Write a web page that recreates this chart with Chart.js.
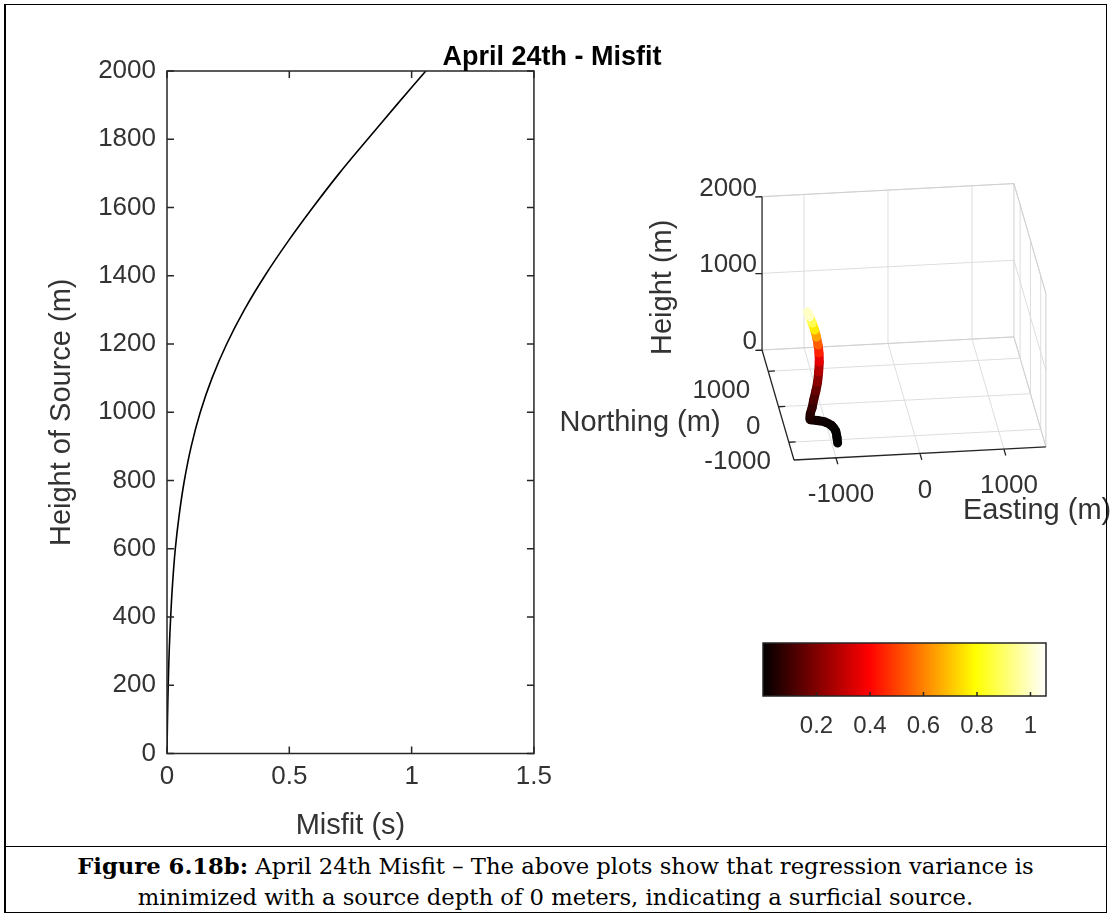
<!DOCTYPE html>
<html lang="en">
<head>
<meta charset="UTF-8">
<title>April 24th - Misfit</title>
<script src="https://cdn.jsdelivr.net/npm/chart.js"></script>
<style>
  body { margin: 0; background: #fff; font-family: "Liberation Sans", Arial, Helvetica, sans-serif; }
  #page { position: relative; width: 1110px; height: 918px; overflow: hidden; background: #fff; }
  canvas { position: absolute; }
  #misfitChart { left: 0; top: 0; }
  #sourceChart { left: 540px; top: 150px; }
  #colorbarChart { left: 740px; top: 620px; }
  #plotTitle { position: absolute; left: 352px; top: 43px; width: 400px; text-align: center;
    font: bold 27px/27px "Liberation Sans", Arial, sans-serif; color: #000; }
  #frame { position: absolute; left: 4px; top: 4px; width: 1103px; height: 909px; box-sizing: border-box;
    border: 1.5px solid #000; border-left-width: 2px; pointer-events: none; }
  #capLine { position: absolute; left: 4px; top: 846px; width: 1103px; border-top: 1.5px solid #000; }
  #caption { position: absolute; left: 6px; top: 851px; width: 1099px; text-align: center;
    font: 22.7px/31px "DejaVu Serif", "Liberation Serif", serif; color: #000; }
</style>
</head>
<body>
<div id="page">
  <canvas id="misfitChart" width="560" height="843"></canvas>
  <canvas id="sourceChart" width="570" height="420"></canvas>
  <canvas id="colorbarChart" width="330" height="140"></canvas>
  <div id="plotTitle">April 24th - Misfit</div>
  <div id="caption"><b>Figure 6.18b:</b> April 24th Misfit – The above plots show that regression variance is<br>minimized with a source depth of 0 meters, indicating a surficial source.</div>
  <div id="capLine"></div>
  <div id="frame"></div>
</div>

<script>
  // source height (m) and misfit (s)
  const sourceHeight = [0, 100, 200, 300, 400, 500, 600, 700, 800, 900, 1000,
                        1100, 1200, 1300, 1400, 1500, 1600, 1700, 1800, 1900, 2000];
  const misfit = [0, 0.002, 0.005, 0.009, 0.015, 0.023, 0.034, 0.05, 0.071, 0.099, 0.136,
                  0.184, 0.244, 0.316, 0.40, 0.494, 0.596, 0.704, 0.82, 0.938, 1.058];

  // best source location for each height (3D plot, right)
  const sourceEasting = [-930, -945, -965, -1020, -1110, -1225, -1330, -1335, -1320, -1300, -1270,
                         -1245, -1225, -1210, -1208, -1218, -1235, -1260, -1290, -1325, -1360];
  const sourceNorthing = [-1090, -1150, -1180, -1235, -1340, -1500, -1675, -1735, -1785, -1780, -1745,
                          -1710, -1650, -1585, -1545, -1535, -1530, -1540, -1555, -1595, -1665];

  const misfitTicks = [0, 0.5, 1, 1.5];
  const heightTicks = [0, 1000, 2000];
  const eastTicks = [-1000, 0, 1000];
  const northTicks = [-1000, 0, 1000];
  const colorbarTicks = [0.2, 0.4, 0.6, 0.8, 1];

  const eastLim = [-1500, 1500];
  const northLim = [-1500, 1600];
  const heightLim = [0, 2000];

  Chart.defaults.font.family = '"Liberation Sans", Arial, Helvetica, sans-serif';
  Chart.defaults.color = '#333';

  // ---------- left: misfit vs height ----------
  const boxTicks = {
    id: 'boxTicks',
    afterDraw(chart) {
      const { ctx, chartArea: a, scales: { x, y } } = chart;
      ctx.save();
      ctx.strokeStyle = '#262626';
      ctx.lineWidth = 1.5;
      ctx.strokeRect(a.left, a.top, a.right - a.left, a.bottom - a.top);
      ctx.beginPath();
      x.ticks.forEach(t => {
        const px = x.getPixelForValue(t.value);
        ctx.moveTo(px, a.bottom); ctx.lineTo(px, a.bottom - 7);
        ctx.moveTo(px, a.top); ctx.lineTo(px, a.top + 7);
      });
      y.ticks.forEach(t => {
        const py = y.getPixelForValue(t.value);
        ctx.moveTo(a.left, py); ctx.lineTo(a.left + 7, py);
        ctx.moveTo(a.right, py); ctx.lineTo(a.right - 7, py);
      });
      ctx.stroke();
      ctx.restore();
    }
  };

  new Chart(document.getElementById('misfitChart'), {
    type: 'scatter',
    data: {
      datasets: [{
        data: sourceHeight.map((h, i) => ({ x: misfit[i], y: h })),
        showLine: true,
        borderColor: '#000',
        borderWidth: 1.6,
        pointRadius: 0,
        tension: 0.4
      }]
    },
    options: {
      responsive: false,
      animation: false,
      layout: { padding: { left: 0, top: 71, right: 20, bottom: 0 } },
      plugins: { legend: { display: false }, tooltip: { enabled: false } },
      scales: {
        x: {
          type: 'linear', min: 0, max: 1.5,
          afterBuildTicks: s => { s.ticks = misfitTicks.map(v => ({ value: v })); },
          ticks: { font: { size: 26 }, color: '#333', padding: 8, maxRotation: 0, callback: v => String(v) },
          grid: { display: false, drawTicks: false },
          border: { display: false },
          title: { display: true, text: 'Misfit (s)', font: { size: 29 }, color: '#333', padding: { top: 0, bottom: 0 } },
          afterFit: s => { s.height = 89.5; }
        },
        y: {
          type: 'linear', min: 0, max: 2000,
          ticks: { stepSize: 200, font: { size: 26 }, color: '#333', padding: 11, callback: v => String(v) },
          grid: { display: false, drawTicks: false },
          border: { display: false },
          title: { display: true, text: 'Height of Source (m)', font: { size: 29 }, color: '#333', padding: { top: 45, bottom: 0 } },
          afterFit: s => { s.width = 167; }
        }
      }
    },
    plugins: [boxTicks]
  });

  // ---------- hot colormap ----------
  const cMin = Math.min(...misfit), cMax = Math.max(...misfit);
  function hot(t) {
    t = Math.max(0, Math.min(1, t));
    const r = Math.min(1, t * 8 / 3);
    const g = Math.max(0, Math.min(1, t * 8 / 3 - 1));
    const b = Math.max(0, Math.min(1, 4 * t - 3));
    return `rgb(${Math.round(r * 255)},${Math.round(g * 255)},${Math.round(b * 255)})`;
  }

  // ---------- right: 3D source track ----------
  const viewAz = -7 * Math.PI / 180, viewEl = 25 * Math.PI / 180;
  const pxPerM = 0.0846;
  function project(e, n, h) {
    return {
      u: Math.cos(viewAz) * e + Math.sin(viewAz) * n,
      v: -Math.sin(viewEl) * Math.sin(viewAz) * e + Math.sin(viewEl) * Math.cos(viewAz) * n + Math.cos(viewEl) * h
    };
  }
  const corner = project(eastLim[0], northLim[0], heightLim[0]);
  const cornerPx = { x: 254, y: 310 }; // front-left-bottom corner inside the canvas
  const W3 = 570, H3 = 420;

  const E0 = eastLim[0], E1 = eastLim[1], N0 = northLim[0], N1 = northLim[1], Z0 = heightLim[0], Z1 = heightLim[1];

  const axes3d = {
    id: 'axes3d',
    beforeDatasetsDraw(chart) {
      const { ctx, scales: { x, y } } = chart;
      const P = (e, n, h) => { const q = project(e, n, h); return [x.getPixelForValue(q.u), y.getPixelForValue(q.v)]; };
      const line = (a, b) => { const p = P(...a), r = P(...b); ctx.moveTo(p[0], p[1]); ctx.lineTo(r[0], r[1]); };
      ctx.save();
      // grid on back planes
      ctx.strokeStyle = '#dedede';
      ctx.lineWidth = 1;
      ctx.beginPath();
      eastTicks.forEach(e => { line([e, N1, Z0], [e, N1, Z1]); line([e, N0, Z0], [e, N1, Z0]); });
      heightTicks.forEach(h => { line([E0, N1, h], [E1, N1, h]); line([E1, N0, h], [E1, N1, h]); });
      northTicks.forEach(n => { line([E0, n, Z0], [E1, n, Z0]); line([E1, n, Z0], [E1, n, Z1]); });
      ctx.stroke();
      // back box edges
      ctx.strokeStyle = '#cfcfcf';
      ctx.beginPath();
      line([E0, N1, Z1], [E1, N1, Z1]);
      line([E0, N1, Z0], [E1, N1, Z0]);
      line([E1, N1, Z0], [E1, N1, Z1]);
      line([E1, N0, Z1], [E1, N1, Z1]);
      line([E1, N0, Z0], [E1, N0, Z1]);
      line([E1, N0, Z0], [E1, N1, Z0]);
      ctx.stroke();
      // axis lines
      ctx.strokeStyle = '#262626';
      ctx.lineWidth = 1.3;
      ctx.beginPath();
      line([E0, N1, Z0], [E0, N1, Z1]);
      line([E0, N0, Z0], [E0, N1, Z0]);
      line([E0, N0, Z0], [E1, N0, Z0]);
      heightTicks.forEach(h => line([E0, N1, h], [E0 - 80, N1, h]));
      northTicks.forEach(n => line([E0, n, Z0], [E0 + 80, n, Z0]));
      eastTicks.forEach(e => line([e, N0, Z0], [e, N0 - 180, Z0]));
      ctx.stroke();
      ctx.restore();
    },
    afterDraw(chart) {
      const { ctx, scales: { x, y } } = chart;
      const P = (e, n, h) => { const q = project(e, n, h); return [x.getPixelForValue(q.u), y.getPixelForValue(q.v)]; };
      ctx.save();
      ctx.fillStyle = '#333';
      ctx.textBaseline = 'middle';
      ctx.font = '26px "Liberation Sans", Arial, sans-serif';
      ctx.textAlign = 'right';
      heightTicks.forEach(h => { const p = P(E0, N1, h); ctx.fillText(String(h), p[0] - 5, p[1] - 8); });
      northTicks.forEach(n => { const p = P(E0, n, Z0); ctx.fillText(String(n), p[0] - 18, p[1] + 20); });
      ctx.textAlign = 'center';
      eastTicks.forEach(e => { const p = P(e, N0, Z0); ctx.fillText(String(e), p[0] + 5, p[1] + 37); });
      ctx.font = '29px "Liberation Sans", Arial, sans-serif';
      let p = P(E0, (N0 + N1) / 2, Z0);
      ctx.fillText('Northing (m)', p[0] - 138, p[1] + 18);
      p = P((E0 + E1) / 2, N0, Z0);
      ctx.textAlign = 'left';
      ctx.fillText('Easting (m)', p[0] + 43, p[1] + 58);
      p = P(E0, N1, (Z0 + Z1) / 2);
      ctx.translate(p[0] - 99, p[1] + 14);
      ctx.rotate(-Math.PI / 2);
      ctx.textAlign = 'center';
      ctx.fillText('Height (m)', 0, 0);
      ctx.restore();
    }
  };

  new Chart(document.getElementById('sourceChart'), {
    type: 'scatter',
    data: {
      datasets: [{
        data: sourceHeight.map((h, i) => {
          const q = project(sourceEasting[i], sourceNorthing[i], h);
          return { x: q.u, y: q.v };
        }),
        showLine: true,
        borderWidth: 9,
        borderCapStyle: 'round',
        borderJoinStyle: 'round',
        tension: 0.25,
        pointRadius: 0,
        clip: false,
        segment: {
          borderColor: c => hot(((misfit[c.p0DataIndex] + misfit[c.p1DataIndex]) / 2 - cMin) / (cMax - cMin))
        }
      }]
    },
    options: {
      responsive: false,
      animation: false,
      layout: { padding: 0 },
      plugins: { legend: { display: false }, tooltip: { enabled: false } },
      scales: {
        x: { type: 'linear', display: false, min: corner.u - cornerPx.x / pxPerM, max: corner.u + (W3 - cornerPx.x) / pxPerM },
        y: { type: 'linear', display: false, min: corner.v - (H3 - cornerPx.y) / pxPerM, max: corner.v + cornerPx.y / pxPerM }
      }
    },
    plugins: [axes3d]
  });

  // ---------- colorbar ----------
  const colorbarFill = {
    id: 'colorbarFill',
    beforeDraw(chart) {
      const { ctx, chartArea: a } = chart;
      const g = ctx.createLinearGradient(a.left, 0, a.right, 0);
      [0, 0.125, 0.25, 0.375, 0.5, 0.625, 0.75, 0.875, 1].forEach(t => g.addColorStop(t, hot(t)));
      ctx.save();
      ctx.fillStyle = g;
      ctx.fillRect(a.left, a.top, a.right - a.left, a.bottom - a.top);
      ctx.restore();
    },
    afterDraw(chart) {
      const { ctx, chartArea: a, scales: { x } } = chart;
      ctx.save();
      ctx.strokeStyle = '#262626';
      ctx.lineWidth = 1.5;
      ctx.strokeRect(a.left, a.top, a.right - a.left, a.bottom - a.top);
      ctx.beginPath();
      colorbarTicks.forEach(v => { const px = x.getPixelForValue(v); ctx.moveTo(px, a.bottom); ctx.lineTo(px, a.bottom - 4); });
      ctx.stroke();
      ctx.restore();
    }
  };

  new Chart(document.getElementById('colorbarChart'), {
    type: 'scatter',
    data: { datasets: [] },
    options: {
      responsive: false,
      animation: false,
      layout: { padding: { left: 23, right: 24, top: 23, bottom: 0 } },
      plugins: { legend: { display: false }, tooltip: { enabled: false } },
      scales: {
        x: {
          type: 'linear', min: cMin, max: cMax,
          afterBuildTicks: s => { s.ticks = colorbarTicks.map(v => ({ value: v })); },
          ticks: { font: { size: 24 }, color: '#333', padding: 16, maxRotation: 0, callback: v => String(v) },
          grid: { display: false, drawTicks: false },
          border: { display: false },
          afterFit: s => { s.height = 64; }
        },
        y: { type: 'linear', display: false, min: 0, max: 1 }
      }
    },
    plugins: [colorbarFill]
  });
</script>
</body>
</html>
